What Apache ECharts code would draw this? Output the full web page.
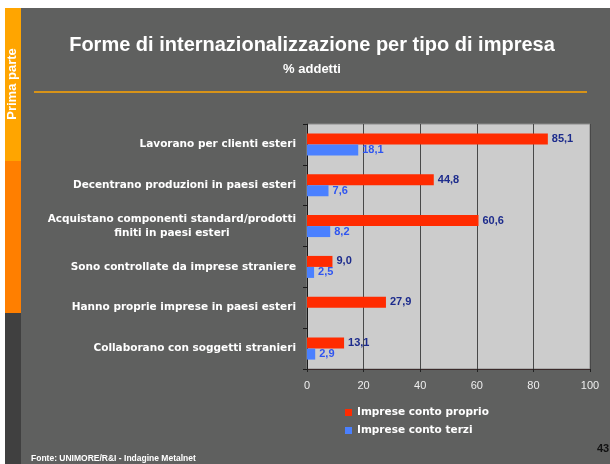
<!DOCTYPE html>
<html>
<head>
<meta charset="utf-8">
<script src="https://cdn.jsdelivr.net/npm/echarts@6/dist/echarts.min.js"></script>
<style>html,body{margin:0;padding:0;background:#fff;}#c{width:610px;height:464px;}</style>
</head>
<body>
<div id="c"></div>
<script>
var categories = [
  'Lavorano per clienti esteri',
  'Decentrano produzioni in paesi esteri',
  'Acquistano componenti standard/prodotti\nfiniti in paesi esteri',
  'Sono controllate da imprese straniere',
  'Hanno proprie imprese in paesi esteri',
  'Collaborano con soggetti stranieri'
];
var seriesNames = ['Imprese conto proprio', 'Imprese conto terzi'];
var contoProprio = [85.1, 44.8, 60.6, 9.0, 27.9, 13.1];
var contoTerzi = [18.1, 7.6, 8.2, 2.5, null, 2.9];
var xTicks = [0, 20, 40, 60, 80, 100];

var chart = echarts.init(document.getElementById('c'), null, {renderer: 'canvas'});
var LBL = 'DejaVu Sans';
var ARIAL = 'Liberation Sans';
function fmt(p){ return p.value == null ? '' : p.value.toFixed(1).replace('.', ','); }

var option = {
  backgroundColor: '#ffffff',
  animation: false,
  graphic: [
    {type: 'rect', shape: {x: 21, y: 8, width: 589, height: 456}, style: {fill: '#5f605f'}, z: -10},
    {type: 'rect', shape: {x: 5, y: 8, width: 16, height: 153}, style: {fill: '#ffa500'}, z: -10},
    {type: 'rect', shape: {x: 5, y: 161, width: 16, height: 152}, style: {fill: '#ff7f00'}, z: -10},
    {type: 'rect', shape: {x: 5, y: 313, width: 16, height: 151}, style: {fill: '#404040'}, z: -10},
    {type: 'text', x: 12, y: 84, rotation: Math.PI / 2, style: {text: 'Prima parte', fill: '#ffffff', font: 'bold 13px "Liberation Sans"', textAlign: 'center', textVerticalAlign: 'middle'}},
    {type: 'text', x: 312, y: 45, style: {text: 'Forme di internazionalizzazione per tipo di impresa', fill: '#ffffff', font: 'bold 20px "Liberation Sans"', textAlign: 'center', textVerticalAlign: 'middle'}},
    {type: 'text', x: 312, y: 69, style: {text: '% addetti', fill: '#ffffff', font: 'bold 13px "Liberation Sans"', textAlign: 'center', textVerticalAlign: 'middle'}},
    {type: 'line', shape: {x1: 34, y1: 92, x2: 587, y2: 92}, style: {stroke: '#ffa500', lineWidth: 1.5}},
    {type: 'text', x: 31, y: 459, style: {text: 'Fonte: UNIMORE/R&I - Indagine Metalnet', fill: '#ffffff', font: 'bold 8.5px "Liberation Sans"', textAlign: 'left', textVerticalAlign: 'middle'}},
    {type: 'text', x: 597, y: 449, style: {text: '43', fill: '#111111', font: 'bold 11px "Liberation Sans"', textAlign: 'left', textVerticalAlign: 'middle'}}
  ],
  grid: {left: 307, top: 124, width: 283, height: 245, show: true, backgroundColor: '#cccccc', borderColor: '#8a8a8a', borderWidth: 1, containLabel: false},
  legend: {
    orient: 'vertical', left: 345, top: 406, padding: 0, itemWidth: 7, itemHeight: 7, itemGap: 5, icon: 'rect',
    data: seriesNames,
    textStyle: {color: '#ffffff', fontFamily: LBL, fontWeight: 'bold', fontSize: 10.5, lineHeight: 13}
  },
  xAxis: {
    type: 'value', min: 0, max: 100, interval: 20,
    axisLine: {show: true, lineStyle: {color: '#3a2a2a', width: 1}},
    axisTick: {show: true, length: 3, lineStyle: {color: '#222'}},
    splitLine: {show: true, lineStyle: {color: '#484848', width: 1}},
    axisLabel: {color: '#eeeeee', fontFamily: ARIAL, fontSize: 11, margin: 11,
      formatter: function(v){ return xTicks.indexOf(v) >= 0 ? String(v) : ''; }}
  },
  yAxis: {
    type: 'category', data: categories, inverse: true,
    axisLine: {show: true, lineStyle: {color: '#1a1a1a', width: 1}},
    axisTick: {show: true, length: 4, inside: false, lineStyle: {color: '#1a1a1a'}},
    axisLabel: {
      margin: 11, color: '#ffffff',
      formatter: function(v){
        return v.split('\n').map(function(s){ return '{c|' + s + '}'; }).join('\n');
      },
      rich: {c: {align: 'center', color: '#ffffff', fontFamily: LBL, fontWeight: 'bold', fontSize: 10.5, lineHeight: 14}}
    }
  },
  series: [
    {
      name: seriesNames[0], type: 'bar', data: contoProprio, barWidth: 11, barGap: '0%',
      itemStyle: {color: '#ff2b00'},
      label: {show: true, position: 'right', distance: 4, formatter: fmt, color: '#1c2b8c', fontFamily: ARIAL, fontWeight: 'bold', fontSize: 11}
    },
    {
      name: seriesNames[1], type: 'bar', data: contoTerzi, barWidth: 11, barGap: '0%',
      itemStyle: {color: '#4a80ff'},
      label: {show: true, position: 'right', distance: 4, formatter: fmt, color: '#2f55f0', fontFamily: ARIAL, fontWeight: 'bold', fontSize: 11}
    }
  ]
};
chart.setOption(option);
</script>
</body>
</html>
